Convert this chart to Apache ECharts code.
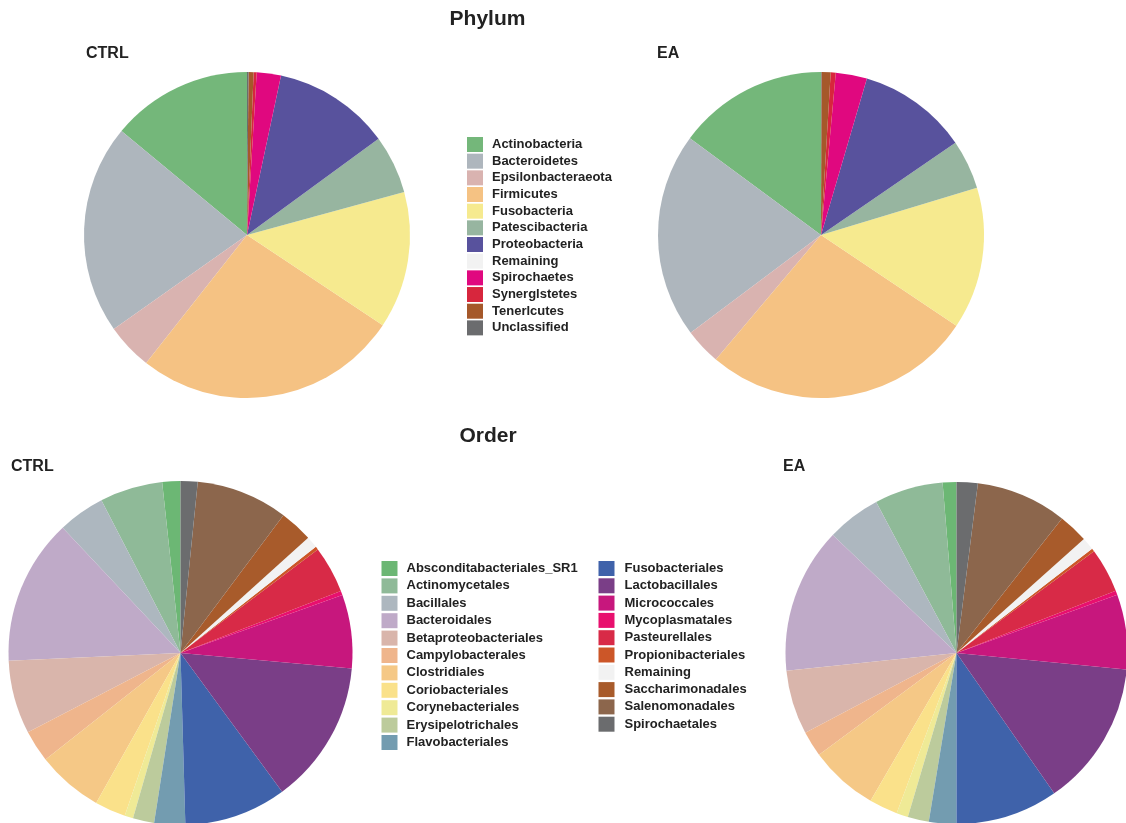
<!DOCTYPE html>
<html>
<head>
<meta charset="utf-8">
<script src="https://cdn.jsdelivr.net/npm/echarts@6/dist/echarts.min.js"></script>
<style>
html,body{margin:0;padding:0;background:#fff;}
#chart{width:1126px;height:823px;}
</style>
</head>
<body>
<div id="chart"></div>
<script>
// ---- Phylum data ----
var phylumNames = ['Actinobacteria','Bacteroidetes','Epsilonbacteraeota','Firmicutes','Fusobacteria','Patescibacteria','Proteobacteria','Remaining','Spirochaetes','Synerglstetes','Tenerlcutes','Unclassified'];
var phylumColors = ['#74b77a','#aeb6bd','#d9b3b0','#f5c283','#f6ea8f','#97b5a0','#58529d','#f2f2f2','#e0087f','#d7263d','#a5582a','#6b6c6e'];
var phylumCTRL = [14.0,20.8,4.6,26.3,13.6,5.8,11.6,0,2.4,0.3,0.5,0.15];
var phylumEA   = [14.9,20.4,3.6,26.8,14.1,4.9,10.9,0,3.1,0.5,0.9,0.05];

// ---- Order data ----
var orderNames = ['Absconditabacteriales_SR1','Actinomycetales','Bacillales','Bacteroidales','Betaproteobacteriales','Campylobacterales','Clostridiales','Coriobacteriales','Corynebacteriales','Erysipelotrichales','Flavobacteriales','Fusobacteriales','Lactobacillales','Micrococcales','Mycoplasmatales','Pasteurellales','Propionibacteriales','Remaining','Saccharimonadales','Salenomonadales','Spirochaetales'];
var orderColors = ['#6cb774','#8fba98','#adb7bf','#bfaac8','#d9b5ab','#efb58c','#f5c886','#fae18a','#efea96','#bccb9c','#739cb0','#3f62aa','#7a3e87','#c7177d','#e8106e','#d82a47','#cc5628','#f2f2f2','#a85b2b','#8c664c','#6b6c6e'];
var orderCTRL = [1.7,5.9,4.4,13.7,6.9,3.0,6.2,2.9,0.8,2.0,2.9,9.6,13.5,6.9,0.4,4.4,0.3,1.1,3.1,8.6,1.6];
var orderEA   = [1.3,6.5,5.1,13.8,6.1,2.4,6.5,2.7,1.1,2.0,2.6,9.7,13.8,7.1,0.4,4.2,0.3,1.2,2.8,8.6,2.0];

function build(names, colors, vals){
  return names.map(function(n,i){ return {name:n, value:vals[i], itemStyle:{color:colors[i]}}; });
}
function pie(data, cx, cy, r){
  return {type:'pie', center:[cx,cy], radius:r, startAngle:90, clockwise:false,
    label:{show:false}, labelLine:{show:false}, emphasis:{disabled:true},
    itemStyle:{borderWidth:0}, avoidLabelOverlap:false, animation:false,
    stillShowZeroSum:true, minAngle:0, data:data};
}
var FF = 'Liberation Sans, Arial, Helvetica, sans-serif';
function ttl(text, left, top, size, align){
  return {text:text, left:left, top:top, padding:0, textAlign:align||'left',
    textStyle:{fontFamily:FF, fontWeight:'bold', fontSize:size, color:'#222'}};
}
function leg(data, left, top, gap, pad){
  return {orient:'vertical', left:left, top:top, padding:0, itemWidth:16, itemHeight:15, itemGap:gap,
    icon:'rect', data:data, selectedMode:false,
    textStyle:{fontFamily:FF, fontWeight:'bold', fontSize:13, color:'#222', padding:[0,0,0,pad]}};
}

var chart = echarts.init(document.getElementById('chart'));
chart.setOption({
  backgroundColor:'#fff',
  animation:false,
  title:[
    ttl('Phylum', 487.5, 8.5, 21, 'center'),
    ttl('CTRL', 86, 46, 16),
    ttl('EA', 657, 46, 16),
    ttl('Order', 488, 425.5, 21, 'center'),
    ttl('CTRL', 11, 459, 16),
    ttl('EA', 783, 459, 16)
  ],
  legend:[
    leg(phylumNames, 467, 137, 1.67, 4),
    leg(orderNames.slice(0,11), 381.5, 561, 2.4, 4),
    leg(orderNames.slice(11), 598.5, 561, 2.3, 5)
  ],
  series:[
    pie(build(phylumNames, phylumColors, phylumCTRL), 247, 235, 163),
    pie(build(phylumNames, phylumColors, phylumEA), 821, 235, 163),
    pie(build(orderNames, orderColors, orderCTRL), 180.5, 653, 172),
    pie(build(orderNames, orderColors, orderEA), 956.5, 653, 171)
  ]
});
</script>
</body>
</html>
